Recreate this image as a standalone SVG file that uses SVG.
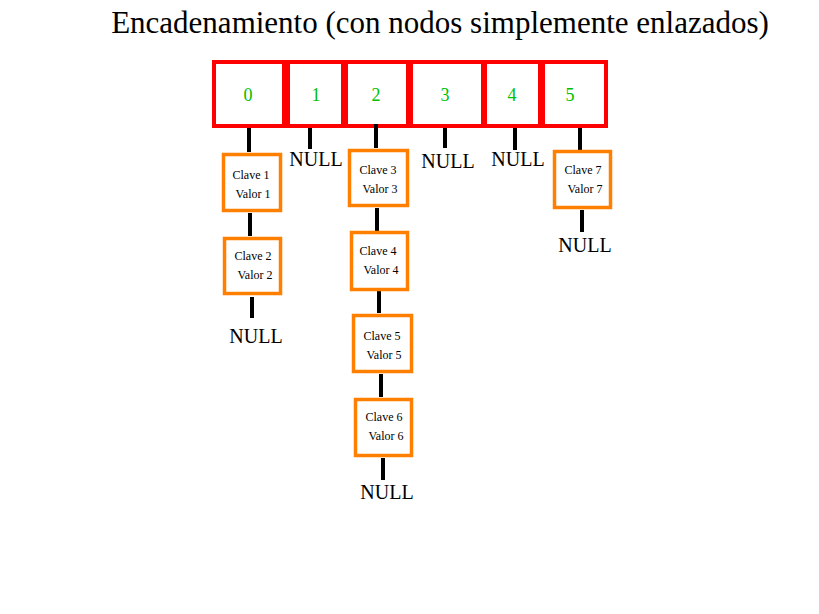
<svg xmlns="http://www.w3.org/2000/svg" width="819" height="614" viewBox="0 0 819 614">
<style>
text{font-family:"Liberation Serif","Times New Roman",Tinos,serif}
.bk{fill:#fff;stroke:#ff0000;stroke-width:4}
.nd{fill:#fff;stroke:#ff8000;stroke-width:3.5}
.idx{font-size:18px;fill:#00c000;text-anchor:middle}
.kv{font-size:12px;fill:#000;text-anchor:middle}
.nul{font-size:20px;fill:#000;text-anchor:middle}
.ttl{font-size:31px;fill:#000;text-anchor:middle}
.ln{stroke:#000;stroke-width:4;fill:none}
</style>
<rect width="819" height="614" fill="#fff"/>
<text class="ttl" x="440" y="33">Encadenamiento (con nodos simplemente enlazados)</text>
<g id="buckets">
<g id="b0"><rect class="bk" x="214" y="62" width="70" height="64"/><text class="idx" x="248" y="101">0</text></g>
<g id="b1"><rect class="bk" x="288" y="62" width="55" height="64"/><text class="idx" x="316" y="101">1</text></g>
<g id="b2"><rect class="bk" x="346" y="62" width="62" height="64"/><text class="idx" x="376" y="101">2</text></g>
<g id="b3"><rect class="bk" x="411" y="62" width="72" height="64"/><text class="idx" x="445" y="101">3</text></g>
<g id="b4"><rect class="bk" x="485" y="62" width="55" height="64"/><text class="idx" x="512" y="101">4</text></g>
<g id="b5"><rect class="bk" x="543" y="62" width="63" height="64"/><text class="idx" x="570" y="101">5</text></g>
</g>
<g id="connectors">
<line class="ln" x1="249" y1="128" x2="249" y2="152"/>
<line class="ln" x1="310" y1="128" x2="310" y2="149"/>
<line class="ln" x1="376" y1="124" x2="376" y2="148"/>
<line class="ln" x1="445" y1="128" x2="445" y2="148"/>
<line class="ln" x1="515" y1="128" x2="515" y2="150"/>
<line class="ln" x1="580" y1="128" x2="580" y2="150"/>
<line class="ln" x1="250" y1="213" x2="250" y2="236"/>
<line class="ln" x1="252" y1="297" x2="252" y2="318"/>
<line class="ln" x1="377" y1="208" x2="377" y2="231"/>
<line class="ln" x1="379" y1="291" x2="379" y2="313"/>
<line class="ln" x1="381" y1="374" x2="381" y2="397"/>
<line class="ln" x1="383" y1="458" x2="383" y2="480"/>
<line class="ln" x1="582" y1="210" x2="582" y2="232"/>
</g>
<g id="n1"><rect class="nd" x="223.5" y="154.5" width="57" height="56"/><text class="kv" x="251" y="179">Clave 1</text><text class="kv" x="253" y="198">Valor 1</text></g>
<g id="n2"><rect class="nd" x="224.5" y="238.5" width="56" height="55"/><text class="kv" x="253" y="260">Clave 2</text><text class="kv" x="255" y="279">Valor 2</text></g>
<g id="n3"><rect class="nd" x="349.5" y="150.5" width="58" height="55"/><text class="kv" x="378" y="174">Clave 3</text><text class="kv" x="380" y="193">Valor 3</text></g>
<g id="n4"><rect class="nd" x="351.5" y="232.5" width="56" height="57"/><text class="kv" x="378" y="255">Clave 4</text><text class="kv" x="381" y="274">Valor 4</text></g>
<g id="n5"><rect class="nd" x="353.5" y="315.5" width="58" height="56"/><text class="kv" x="382" y="340">Clave 5</text><text class="kv" x="384" y="359">Valor 5</text></g>
<g id="n6"><rect class="nd" x="355.5" y="399.5" width="56" height="56"/><text class="kv" x="384" y="421">Clave 6</text><text class="kv" x="386" y="440">Valor 6</text></g>
<g id="n7"><rect class="nd" x="554.5" y="151.5" width="56" height="56"/><text class="kv" x="583" y="174">Clave 7</text><text class="kv" x="585" y="193">Valor 7</text></g>
<g id="nulls">
<text class="nul" x="316" y="166">NULL</text>
<text class="nul" x="448" y="168">NULL</text>
<text class="nul" x="518" y="166">NULL</text>
<text class="nul" x="256" y="343">NULL</text>
<text class="nul" x="387" y="499">NULL</text>
<text class="nul" x="585" y="252">NULL</text>
</g>
</svg>
